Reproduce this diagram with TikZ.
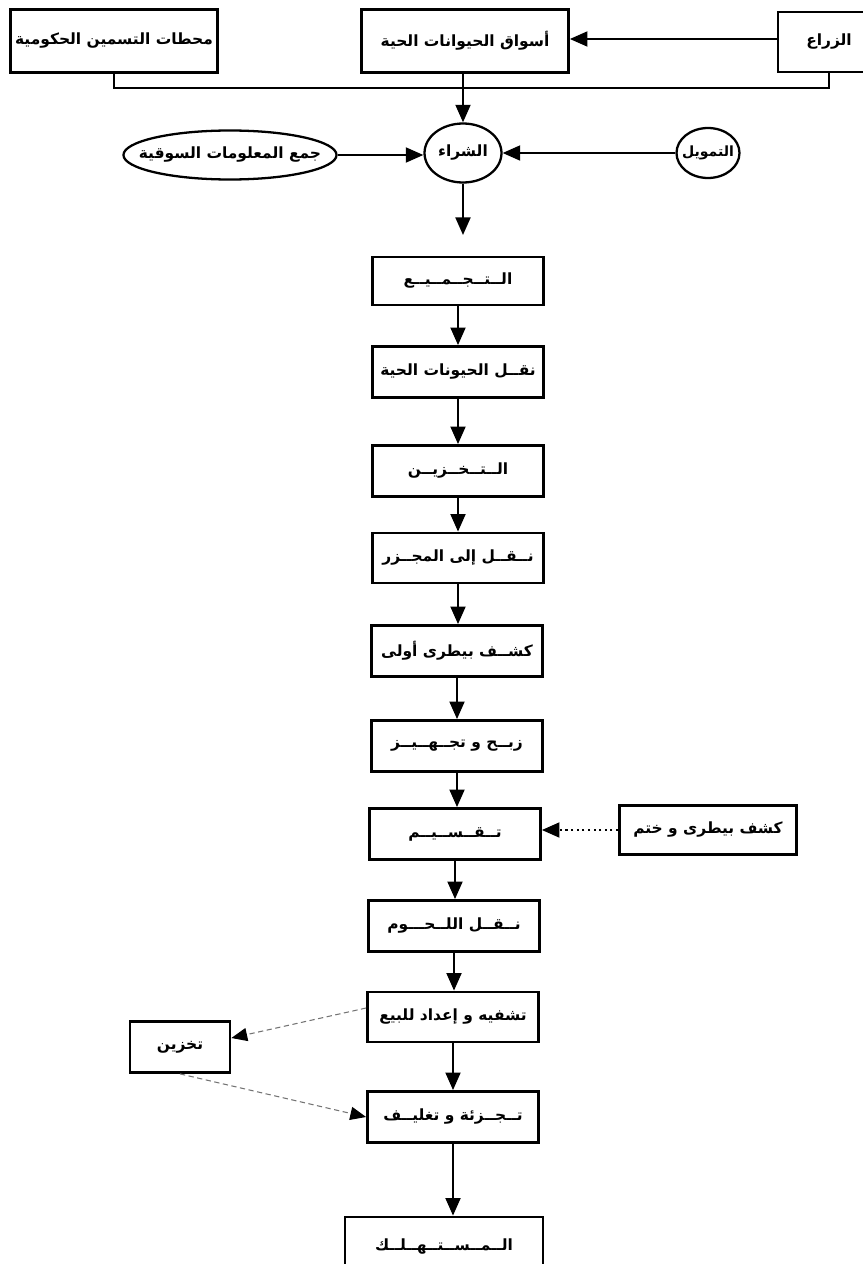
\documentclass[tikz,border=0pt]{standalone}
\usepackage{fontspec}
\newfontfamily\arabicfont[Script=Arabic]{DejaVu Sans}
\TeXXeTstate=1
\usetikzlibrary{arrows.meta,shapes.geometric}
\newcommand{\artext}[1]{\beginR #1\endR}

\begin{document}
\begin{tikzpicture}[
    x=0.02cm,
    y=-0.02cm,
    font=\arabicfont\bfseries\fontsize{8.8}{11}\selectfont,
    topbox/.style={
        draw,
        line width=1.6pt,
        minimum width=4.14cm,
        minimum height=1.26cm,
        inner sep=0pt
    },
    stagebox/.style={
        draw,
        line width=1.6pt,
        minimum width=3.42cm,
        minimum height=1.02cm,
        inner sep=0pt
    },
    oval/.style={
        draw,
        ellipse,
        line width=1.3pt,
        inner sep=0pt
    },
    flow/.style={
        line width=1.2pt,
        -{Triangle[length=10pt,width=8.5pt]}
    },
    dotflow/.style={
        flow,
        line width=1.2pt,
        dotted
    },
    grayflow/.style={
        draw=black!55,
        line width=0.6pt,
        densely dashed,
        -{Triangle[length=9pt,width=7.5pt,color=black]}
    }
]

\useasboundingbox (0,0) rectangle (862,1264);

% Sources on the top row
\node[topbox] (stations) at (114,41)
    {\artext{محطات التسمين الحكومية}};
\node[topbox] (markets) at (465,41)
    {\artext{أسواق الحيوانات الحية}};
\node[topbox, minimum width=2.04cm, minimum height=1.2cm] (farmers) at (829,42)
    {\artext{الزراع}};

\draw[flow] (farmers.west |- 0,39) -- (markets.east |- 0,39);

% Joining line under the top row
\coordinate (join) at (463,88);
\draw[line width=1.2pt] (stations.south) |- (join) -| (farmers.south);

% Purchase with its two inputs
\node[oval, minimum width=1.54cm, minimum height=1.18cm] (buy) at (463,153)
    {\artext{الشراء}};
\node[oval, minimum width=4.2cm, minimum height=0.98cm, inner xsep=-9pt] (info) at (230,155)
    {\artext{جمع المعلومات السوقية}};
\node[oval, minimum width=1.26cm, minimum height=1cm, inner xsep=-6pt,
      font=\arabicfont\bfseries\fontsize{8}{10}\selectfont] (finance) at (708,153)
    {\artext{التمويل}};

\draw[flow] (markets.south -| buy.north) -- (buy.north);
\draw[flow] (info.east) -- (info.east -| buy.west);
\draw[flow] (finance.west) -- (buy.east);

\coordinate (buyend) at (463,235);
\draw[flow] (buy.south) -- (buyend);

% Main chain of stages
\node[stagebox, minimum height=0.96cm] (s1) at (458,281)
    {\artext{الــتــجــمــيــع}};
\node[stagebox] (s2) at (458,372)
    {\artext{نقــل الحيونات الحية}};
\node[stagebox] (s3) at (458,471)
    {\artext{الــتــخــزيــن}};
\node[stagebox, minimum height=1cm] (s4) at (458,558)
    {\artext{نــقــل إلى المجــزر}};
\node[stagebox] (s5) at (457,651)
    {\artext{كشــف بيطرى أولى}};
\node[stagebox] (s6) at (457,746)
    {\artext{زبــح و تجــهــيــز}};
\node[stagebox] (s7) at (455,834)
    {\artext{تــقــســيــم}};
\node[stagebox] (s8) at (454,926)
    {\artext{نــقــل اللــحـــوم}};
\node[stagebox, minimum height=1cm] (s9) at (453,1017)
    {\artext{تشفيه و إعداد للبيع}};
\node[stagebox] (s10) at (453,1117)
    {\artext{تــجــزئة و تغليــف}};
\node[stagebox, minimum width=3.96cm, minimum height=1.2cm] (s11) at (444,1247)
    {\artext{الــمــســتــهــلــك}};

\foreach \a/\b in {s1/s2,s2/s3,s3/s4,s4/s5,s5/s6,s6/s7,s7/s8,s8/s9,s9/s10,s10/s11}
    \draw[flow] (\a.south) -- (\a.south |- \b.north);

% Side inputs
\node[stagebox, minimum width=3.54cm, minimum height=0.98cm] (vet) at (708,830)
    {\artext{كشف بيطرى و ختم}};
\draw[dotflow] (vet.west) -- (vet.west -| s7.east);

\node[stagebox, minimum width=2cm] (store) at (180,1047)
    {\artext{تخزين}};
\draw[grayflow] (s9.west |- 0,1008) -- (store.east |- 0,1038);
\draw[grayflow] (store.south) -- (s10.west);

\end{tikzpicture}
\end{document}
